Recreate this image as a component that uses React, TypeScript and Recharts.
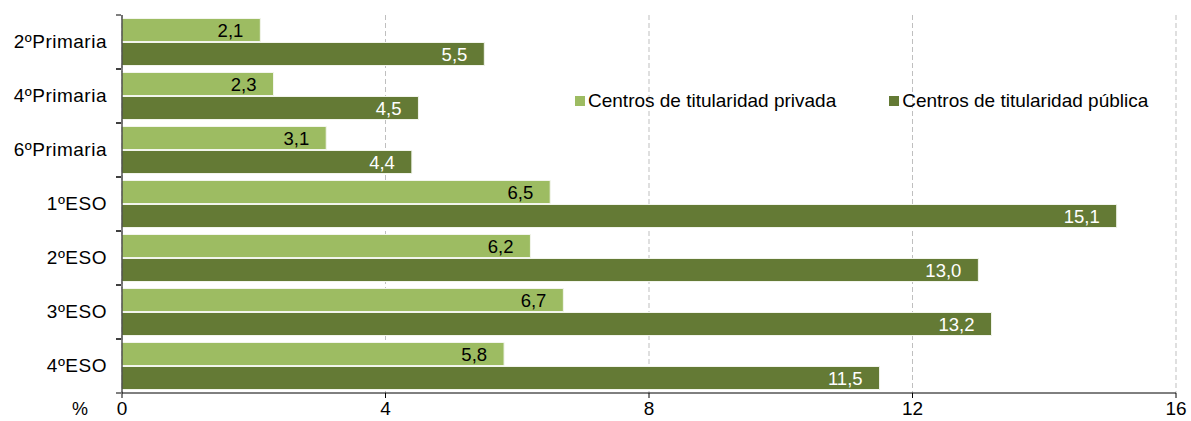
import { BarChart, Bar, XAxis, YAxis, CartesianGrid, LabelList } from 'recharts';

const cursos = ['2ºPrimaria', '4ºPrimaria', '6ºPrimaria', '1ºESO', '2ºESO', '3ºESO', '4ºESO'];
const privada = [2.1, 2.3, 3.1, 6.5, 6.2, 6.7, 5.8];
const publica = [5.5, 4.5, 4.4, 15.1, 13.0, 13.2, 11.5];
const ejeTicks = [0, 4, 8, 12, 16];

const data = cursos.map((curso, i) => ({ curso, privada: privada[i], publica: publica[i] }));

const FONT = '"Liberation Sans", Arial, sans-serif';
const CLARO = '#9DBC62';
const OSCURO = '#647A35';

const fmt = (v: any) => Number(v).toFixed(1).replace('.', ',');

// etiqueta de categoría + marcas del eje entre categorías
const YTick = (props: any) => {
    const { x, y, payload } = props;
    const ax = x + 7;
    return (
        <g>
            <text x={ax - 14} y={y} dy={6} textAnchor="end" fontSize={19} letterSpacing={0.5} fill="#000" fontFamily={FONT}>
                {payload.value}
            </text>
            <line x1={ax - 5} x2={ax} y1={y - 27} y2={y - 27} stroke="#000" strokeWidth={1} />
            <line x1={ax - 5} x2={ax} y1={y + 27} y2={y + 27} stroke="#000" strokeWidth={1} />
        </g>
    );
};

const XTick = (props: any) => {
    const { x, y, payload } = props;
    return (
        <g>
            <text x={x} y={y} dy={15} textAnchor="middle" fontSize={19} fill="#000" fontFamily={FONT}>
                {payload.value}
            </text>
            {payload.value === 0 && (
                <text x={x - 42} y={y} dy={15} textAnchor="middle" fontSize={18} fill="#000" fontFamily={FONT}>
                    %
                </text>
            )}
        </g>
    );
};

const Leyenda = () => (
    <div style={{ position: 'absolute', top: 90, left: 575, display: 'flex', fontFamily: FONT, fontSize: 19, color: '#000', lineHeight: '22px' }}>
        <div style={{ display: 'flex', alignItems: 'center', marginRight: 53 }}>
            <span style={{ width: 10, height: 10, background: CLARO, display: 'inline-block', marginRight: 3 }} />
            Centros de titularidad privada
        </div>
        <div style={{ display: 'flex', alignItems: 'center' }}>
            <span style={{ width: 10, height: 10, background: OSCURO, display: 'inline-block', marginRight: 3 }} />
            Centros de titularidad pública
        </div>
    </div>
);

export default function App() {
    return (
        <div style={{ position: 'absolute', left: 0, top: 0, width: 1191, height: 421, background: '#fff' }}>
            <BarChart
                width={1191}
                height={421}
                data={data}
                layout="vertical"
                margin={{ top: 15, right: 15, left: 0, bottom: 0 }}
                barCategoryGap={3.5}
                barGap={1}
            >
                <CartesianGrid horizontal={false} vertical={true} stroke="#BFBFBF" strokeDasharray="5 3" />
                <XAxis
                    type="number"
                    domain={[0, 16]}
                    ticks={ejeTicks}
                    height={28}
                    axisLine={{ stroke: '#000' }}
                    tickLine={{ stroke: '#000' }}
                    tickSize={5}
                    tick={<XTick />}
                    interval={0}
                />
                <YAxis
                    type="category"
                    dataKey="curso"
                    width={122}
                    axisLine={{ stroke: '#000' }}
                    tickLine={false}
                    tick={<YTick />}
                    interval={0}
                />
                <Bar dataKey="privada" fill={CLARO} stroke="#F2F5EC" strokeWidth={1} isAnimationActive={false}>
                    <LabelList dataKey="privada" position="insideRight" offset={17} formatter={fmt} fill="#000" fontSize={18.5} fontFamily={FONT} />
                </Bar>
                <Bar dataKey="publica" fill={OSCURO} stroke="#F2F5EC" strokeWidth={1} isAnimationActive={false}>
                    <LabelList dataKey="publica" position="insideRight" offset={17} formatter={fmt} fill="#fff" fontSize={18.5} fontFamily={FONT} />
                </Bar>
            </BarChart>
            <Leyenda />
        </div>
    );
}
